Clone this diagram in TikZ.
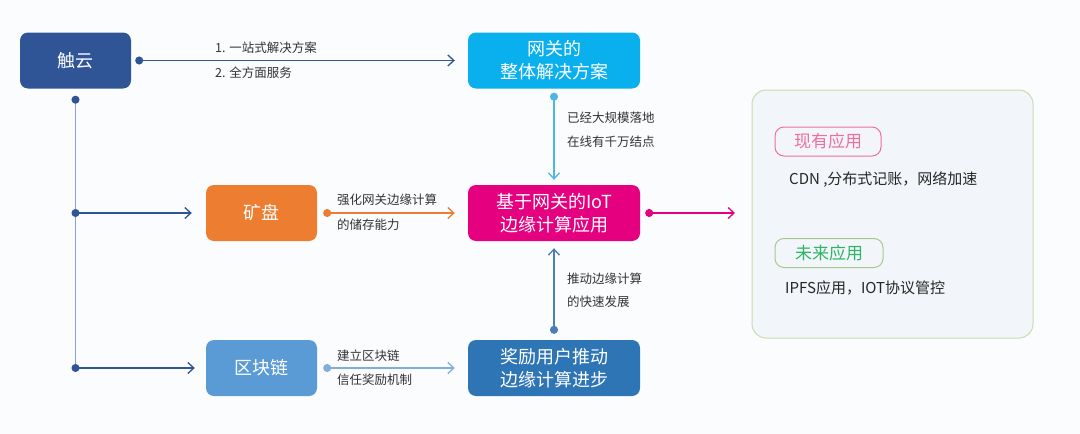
\documentclass[tikz,border=0pt]{standalone}
\usepackage{fontspec}
\setmainfont{Noto Sans CJK SC}
\usetikzlibrary{arrows.meta}
\definecolor{pagebg}{HTML}{FBFCFD}
\definecolor{cyunblue}{HTML}{2F5597}
\definecolor{trunkline}{HTML}{8EA0D2}
\definecolor{gwcyan}{HTML}{0AB0EE}
\definecolor{gwline}{HTML}{4FB6E3}
\definecolor{kporange}{HTML}{ED7D31}
\definecolor{iotpink}{HTML}{E5007F}
\definecolor{qklblue}{HTML}{5B9BD5}
\definecolor{qklline}{HTML}{7FAEDD}
\definecolor{jlblue}{HTML}{2E75B6}
\definecolor{jlline}{HTML}{4B7DB7}
\definecolor{labeltext}{HTML}{333333}
\definecolor{panelfill}{HTML}{F2F6FA}
\definecolor{panelborder}{HTML}{C9DCB0}
\definecolor{tagpink}{HTML}{EE6E9C}
\definecolor{taggreen}{HTML}{2FB463}
\definecolor{tagborder}{HTML}{A9C78C}

\begin{document}
\begin{tikzpicture}[x=1pt, y=-1pt,
    box/.style={rounded corners=8pt, minimum width=111pt, minimum height=56pt, inner sep=0pt,
        text=white, align=center, font=\fontsize{18}{23}\selectfont},
    widebox/.style={box, minimum width=172pt},
    lbl/.style={anchor=west, inner sep=0pt, text=labeltext, font=\fontsize{12.5}{15}\selectfont},
    link/.style={line width=1.3pt, {Circle[length=8pt]}-{Straight Barb[length=6pt, width=11pt]}},
    tag/.style={rounded corners=9pt, line width=1pt, minimum height=29pt, inner sep=0pt,
        font=\fontsize{17}{20}\selectfont},
    apptext/.style={anchor=west, inner sep=0pt, text=black!85, font=\fontsize{15}{18}\selectfont}]

    \fill[pagebg] (0,0) rectangle (1080,434);
    \useasboundingbox (0,0) rectangle (1080,434);

    \node[box, fill=cyunblue] (chuyun) at (75.5,60.5) {触云};
    \node[widebox, fill=gwcyan] (gateway) at (554,60.5) {网关的\\整体解决方案};
    \node[box, fill=kporange] (kuangpan) at (261.5,213) {矿盘};
    \node[widebox, fill=iotpink] (iot) at (554,213) {基于网关的IoT\\边缘计算应用};
    \node[box, fill=qklblue] (qukuailian) at (261.5,368) {区块链};
    \node[widebox, fill=jlblue] (jiangli) at (554,368) {奖励用户推动\\边缘计算进步};

    \node[draw=panelborder, fill=panelfill, line width=1pt, rounded corners=14pt,
        minimum width=281pt, minimum height=248pt] (panel) at (892.5,214) {};
    \node[tag, draw=tagpink, text=tagpink, minimum width=106pt] (xianyou) at (828,141.5) {现有应用};
    \node[apptext] (cdn) at (789,180) {CDN ,分布式记账，网络加速};
    \node[tag, draw=tagborder, text=taggreen, minimum width=108pt] (weilai) at (829,253) {未来应用};
    \node[apptext] (ipfs) at (785,288) {IPFS应用，IOT协议管控};

    \coordinate (fork1) at (chuyun.south |- kuangpan.west);
    \coordinate (fork2) at (chuyun.south |- qukuailian.west);
    \coordinate (iotout) at (735,213);

    \draw[link, draw=cyunblue, shorten <=4pt, shorten >=13pt] (chuyun.east) -- (gateway.west);
    \node[lbl] (plan1) at (215,48) {1. 一站式解决方案};
    \node[lbl] (plan2) at (215,73) {2. 全方面服务};

    \draw[line width=1.3pt, draw=trunkline, {Circle[length=8pt, color=cyunblue]}-] ([yshift=-7pt]chuyun.south) -- (fork2);
    \draw[link, draw=cyunblue, shorten <=-4pt, shorten >=14pt] (fork1) -- (kuangpan.west);
    \draw[link, draw=cyunblue, shorten <=-4pt, shorten >=11pt] (fork2) -- (qukuailian.west);

    \draw[link, draw=gwline, shorten <=4pt, shorten >=5pt] (gateway.south) -- (iot.north);
    \node[lbl] (land1) at (567,118) {已经大规模落地};
    \node[lbl] (land2) at (567,142) {在线有千万结点};

    \draw[link, draw=kporange, shorten <=6pt, shorten >=13pt] (kuangpan.east) -- (iot.west);
    \node[lbl] (store1) at (337,200) {强化网关边缘计算};
    \node[lbl] (store2) at (337,225) {的储存能力};

    \draw[link, draw=qklline, shorten <=6pt, shorten >=13pt] (qukuailian.east) -- (jiangli.west);
    \node[lbl] (trust1) at (337,356) {建立区块链};
    \node[lbl] (trust2) at (337,380) {信任奖励机制};

    \draw[link, draw=jlline, shorten <=6pt, shorten >=7pt] (jiangli.north) -- (iot.south);
    \node[lbl] (push1) at (567,279) {推动边缘计算};
    \node[lbl] (push2) at (567,302) {的快速发展};

    \draw[link, draw=iotpink, shorten <=5pt] (iot.east) -- (iotout);
\end{tikzpicture}
\end{document}
